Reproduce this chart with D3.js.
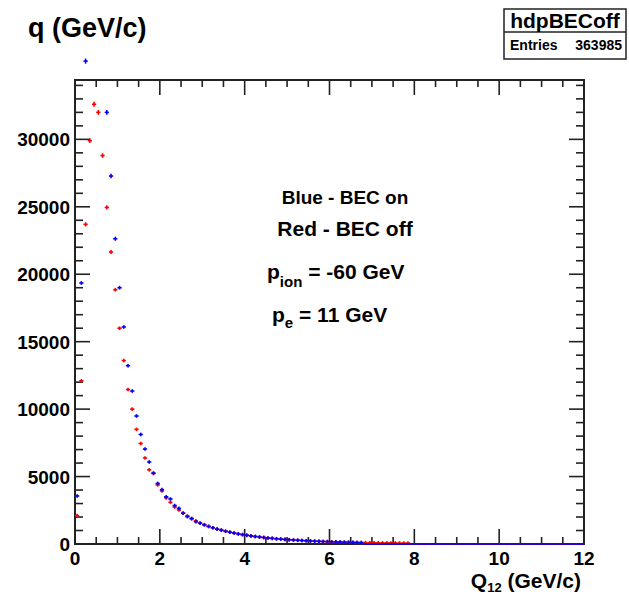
<!DOCTYPE html>
<html>
<head>
<meta charset="utf-8">
<script src="https://cdn.jsdelivr.net/npm/d3@7"></script>
<style>
  html, body { margin: 0; padding: 0; background: #fff; }
  svg { display: block; }
  text { font-family: "Liberation Sans", Arial, Helvetica, sans-serif; font-weight: bold; fill: #000; }
</style>
</head>
<body>
<script>
// Histogram binning: 120 bins of 0.1 GeV/c between 0 and 12
const binWidth = 0.1;
const binCenters = d3.range(120).map(i => +(0.05 + i * binWidth).toFixed(2));

// Bin contents, BEC switched off (red)
const becOff = [
  2100, 12100, 23700, 29900, 32600, 32000, 28800, 24950, 21650, 18850,
  16000, 13600, 11450, 10000, 8500, 7450, 6380, 5500, 5230, 4380,
  3930, 3420, 3090, 2740, 2520, 2290, 2080, 1900, 1720, 1560,
  1430, 1310, 1200, 1110, 1020, 950, 880, 810, 750, 690,
  640, 595, 550, 515, 480, 445, 415, 385, 360, 335,
  315, 295, 275, 255, 240, 225, 210, 195, 185, 172,
  160, 150, 141, 132, 124, 116, 110, 104, 99, 95,
  92, 88, 85, 82, 78, 75, 72, 69, 66, 0,
  0, 0, 0, 0, 0, 0, 0, 0, 0, 0,
  0, 0, 0, 0, 0, 0, 0, 0, 0, 0,
  0, 0, 0, 0, 0, 0, 0, 0, 0, 0,
  0, 0, 0, 0, 0, 0, 0, 0, 0, 0
];

// Bin contents, BEC switched on (blue); null = above the plotted range
const becOn = [
  3560, 19350, 35800, null, null, null, null, 32000, 27280, 22630,
  19000, 16090, 13220, 11340, 9490, 8120, 7040, 6080, 5260, 4490,
  4030, 3500, 3340, 2850, 2640, 2280, 2030, 1870, 1650, 1540,
  1420, 1300, 1210, 1100, 1030, 940, 870, 820, 750, 700,
  650, 600, 560, 520, 485, 450, 420, 390, 365, 340,
  318, 298, 278, 260, 244, 228, 213, 200, 188, 176,
  165, 154, 145, 136, 128, 120, 112, 105, 0, 0,
  0, 0, 0, 0, 0, 0, 0, 0, 0, 0,
  0, 0, 0, 0, 0, 0, 0, 0, 0, 0,
  0, 0, 0, 0, 0, 0, 0, 0, 0, 0,
  0, 0, 0, 0, 0, 0, 0, 0, 0, 0,
  0, 0, 0, 0, 0, 0, 0, 0, 0, 0
];

const xTicks = [0, 2, 4, 6, 8, 10, 12];
const yTicks = [0, 5000, 10000, 15000, 20000, 25000, 30000];
const histName = "hdpBECoff";
const entries = 363985;

const W = 629, H = 595;
const frame = { left: 75, right: 584, top: 80, bottom: 544 };

const svg = d3.select("body").append("svg").attr("width", W).attr("height", H);

const x = d3.scaleLinear().domain([0, 12]).range([frame.left, frame.right]);
const y = d3.scaleLinear().domain([0, 34400]).range([frame.bottom, frame.top]);

const axisColor = "#222";

// Frame box
svg.append("rect")
  .attr("x", frame.left).attr("y", frame.top)
  .attr("width", frame.right - frame.left).attr("height", frame.bottom - frame.top)
  .attr("fill", "none").attr("stroke", axisColor).attr("stroke-width", 2);

// Ticks on all four sides: major and minor
const xMinor = d3.range(0, 12.001, 0.5);
const yMinor = d3.range(0, 34001, 1000);
const ticks = svg.append("g").attr("stroke", axisColor).attr("stroke-width", 1.6);
xMinor.forEach(v => {
  const major = Math.abs(v % 2) < 1e-9;
  const len = major ? 15 : 7;
  ticks.append("line").attr("x1", x(v)).attr("x2", x(v))
    .attr("y1", frame.bottom).attr("y2", frame.bottom - len);
  ticks.append("line").attr("x1", x(v)).attr("x2", x(v))
    .attr("y1", frame.top).attr("y2", frame.top + len);
});
yMinor.forEach(v => {
  const major = v % 5000 === 0;
  const len = major ? 15 : 8;
  ticks.append("line").attr("y1", y(v)).attr("y2", y(v))
    .attr("x1", frame.left).attr("x2", frame.left + len);
  ticks.append("line").attr("y1", y(v)).attr("y2", y(v))
    .attr("x1", frame.right).attr("x2", frame.right - len);
});

// Tick labels
svg.append("g").selectAll("text").data(xTicks).join("text")
  .attr("x", d => x(d)).attr("y", 565)
  .attr("text-anchor", "middle").attr("font-size", 19)
  .text(d => d);
svg.append("g").selectAll("text").data(yTicks).join("text")
  .attr("x", 70).attr("y", d => y(d) + 7)
  .attr("text-anchor", "end").attr("font-size", 19)
  .text(d => d);

// Axis titles
svg.append("text").attr("x", 28).attr("y", 37).attr("font-size", 27).text("q (GeV/c)");
const xt = svg.append("text").attr("x", 581).attr("y", 588).attr("text-anchor", "end").attr("font-size", 21);
xt.append("tspan").text("Q");
xt.append("tspan").attr("font-size", 13).attr("dy", 4).text("12");
xt.append("tspan").attr("dy", -4).text(" (GeV/c)");

// Error-bar crosses for one series
function drawSeries(values, color) {
  const g = svg.append("g").attr("stroke", color).attr("stroke-width", 1.6);
  binCenters.forEach((c, i) => {
    const v = values[i];
    if (v === null || v === undefined) return;
    const e = Math.sqrt(v);
    g.append("line")
      .attr("x1", x(c - binWidth / 2)).attr("x2", x(c + binWidth / 2))
      .attr("y1", y(v)).attr("y2", y(v));
    if (e > 0) {
      const half = Math.max(y(v) - y(v + e), 1.8);
      g.append("line")
        .attr("x1", x(c)).attr("x2", x(c))
        .attr("y1", y(v) - half).attr("y2", y(v) + half);
    }
  });
}
drawSeries(becOff, "#ff0000");
drawSeries(becOn, "#0000ff");

// Annotations
svg.append("text").attr("x", 345).attr("y", 204).attr("text-anchor", "middle").attr("font-size", 19).text("Blue - BEC on");
svg.append("text").attr("x", 345).attr("y", 236).attr("text-anchor", "middle").attr("font-size", 21).text("Red - BEC off");
const p1 = svg.append("text").attr("x", 267).attr("y", 279).attr("font-size", 21);
p1.append("tspan").text("p");
p1.append("tspan").attr("font-size", 15).attr("dy", 8).text("ion");
p1.append("tspan").attr("dy", -8).text(" = -60 GeV");
const p2 = svg.append("text").attr("x", 272).attr("y", 322).attr("font-size", 21);
p2.append("tspan").text("p");
p2.append("tspan").attr("font-size", 15).attr("dy", 6).text("e");
p2.append("tspan").attr("dy", -6).text(" = 11 GeV");

// Statistics box
const sb = { x: 504, y: 9, w: 122, h: 50, split: 32 };
svg.append("rect").attr("x", sb.x).attr("y", sb.y).attr("width", sb.w).attr("height", sb.h)
  .attr("fill", "#fff").attr("stroke", axisColor).attr("stroke-width", 1.5);
svg.append("line").attr("x1", sb.x).attr("x2", sb.x + sb.w).attr("y1", sb.split).attr("y2", sb.split)
  .attr("stroke", axisColor).attr("stroke-width", 1.5);
svg.append("text").attr("x", sb.x + sb.w / 2).attr("y", 28).attr("text-anchor", "middle").attr("font-size", 21).text(histName);
svg.append("text").attr("x", sb.x + 6).attr("y", 50).attr("font-size", 14).text("Entries");
svg.append("text").attr("x", sb.x + sb.w - 4).attr("y", 50).attr("text-anchor", "end").attr("font-size", 14).text(entries);
</script>
</body>
</html>
